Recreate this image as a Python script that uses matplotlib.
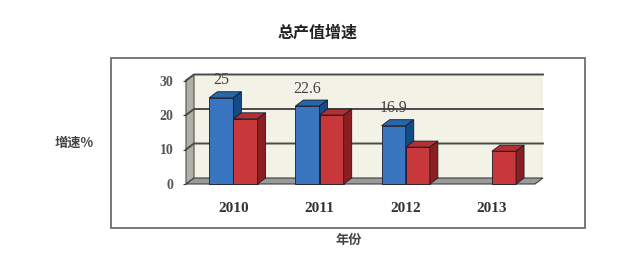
import numpy as np
import matplotlib as mpl
mpl.use('Agg')
from matplotlib import pyplot as plt
from matplotlib.patches import Polygon, Rectangle

# data
years = ['2010', '2011', '2012', '2013']
gdp_growth = [25, 22.6, 16.9, np.nan]      # blue
other_growth = [18.9, 20.0, 10.7, 9.5]     # red
yticks = [0, 10, 20, 30]

CJK = ['Noto Sans CJK SC', 'DejaVu Sans']
SERIF = ['Liberation Serif', 'DejaVu Serif']

blue = dict(front='#3a76c0', top='#2767ab', side='#124c85')
red = dict(front='#c8383a', top='#b33033', side='#8a1f21')


def face(ax, pts, fc, z, ec='#1a1a2a', lw=0.6):
    ax.add_patch(Polygon(pts, closed=True, fc=fc, ec=ec, lw=lw,
                         zorder=z, clip_on=False))


def bar3d(ax, x, w, v, col, z, ddx, ddy):
    if np.isnan(v):
        return
    l, r = x - w / 2, x + w / 2
    ax.bar(x, v, w, color=col['front'], edgecolor='#1a1a2a', lw=0.6,
           zorder=z, clip_on=False)
    face(ax, [(l, v), (r, v), (r + ddx, v + ddy), (l + ddx, v + ddy)],
         col['top'], z)
    face(ax, [(r, 0), (r, v), (r + ddx, v + ddy), (r + ddx, ddy)],
         col['side'], z)


def main():
    fig = plt.figure(figsize=(6.17, 2.67), dpi=100)
    W, H = 617, 267
    left, right, bot, top = 186, 535, 184, 80.5
    ax = fig.add_axes([left / W, 1 - bot / H, (right - left) / W,
                       (bot - top) / H])
    x0, x1 = -0.55, 3.5
    ax.set_xlim(x0, x1)
    ax.set_ylim(0, 30)
    ax.set_frame_on(False)
    ax.patch.set_visible(False)

    # pixel depth -> data units
    ddx = 8 * (x1 - x0) / (right - left)
    ddy = 6 * 30 / (bot - top)

    # walls
    face(ax, [(x0 + ddx, ddy), (x1 + ddx, ddy), (x1 + ddx, 30 + ddy),
              (x0 + ddx, 30 + ddy)], '#f3f2e6', 0, ec='none')
    face(ax, [(x0, 0), (x0, 30), (x0 + ddx, 30 + ddy), (x0 + ddx, ddy)],
         '#b0b0a8', 0.5, ec='#505050', lw=0.8)
    face(ax, [(x0, 0), (x1, 0), (x1 + ddx, ddy), (x0 + ddx, ddy)],
         '#9a9a9a', 0.5, ec='#404040', lw=0.8)
    for v in yticks[1:]:
        ax.plot([x0, x0 + ddx, x1 + ddx], [v, v + ddy, v + ddy],
                color='#4a4a4a', lw=1.4, zorder=1, clip_on=False)

    xs = np.arange(len(years))
    w = 0.28
    for i, x in enumerate(xs):
        bar3d(ax, x - w / 2, w, gdp_growth[i], blue, 3, ddx, ddy)
        bar3d(ax, x + w / 2, w, other_growth[i], red, 4, ddx, ddy)
        if not np.isnan(gdp_growth[i]):
            ax.annotate('{:g}'.format(gdp_growth[i]), (x - w / 2, gdp_growth[i]),
                        xytext=(0, 12.5), textcoords='offset points',
                        ha='center', va='center', fontsize=11.5,
                        family=SERIF, color='#444444', zorder=6)

    ax.set_xticks(xs)
    ax.set_xticklabels(years, family=SERIF, fontsize=11, fontweight='bold',
                       color='#333333')
    ax.tick_params(axis='x', length=0, pad=13)
    ax.set_yticks(yticks)
    ax.set_yticklabels([str(v) for v in yticks], family=SERIF, fontsize=10,
                       fontweight='bold', color='#555555')
    ax.tick_params(axis='y', length=2, pad=7, color='#404040')

    ## -- frame & labels -- ##
    fig.add_artist(Rectangle((111 / W, 1 - 228 / H), (585 - 111) / W,
                             (228 - 58) / H, transform=fig.transFigure,
                             fill=False, ec='#6e6e6e', lw=1.3))
    fig.text(318 / W, 1 - 33 / H, '总产值增速', family=CJK, fontsize=11.5,
             fontweight='bold', color='#222222', ha='center', va='center')
    fig.text(74 / W, 1 - 143 / H, '增速%', family=CJK, fontsize=9.5,
             fontweight='bold', color='#444444', ha='center', va='center')
    fig.text(349 / W, 1 - 240 / H, '年份', family=CJK, fontsize=9.5,
             fontweight='bold', color='#444444', ha='center', va='center')

    fig.savefig('out.png', dpi=100)


if __name__ == '__main__':
    main()
